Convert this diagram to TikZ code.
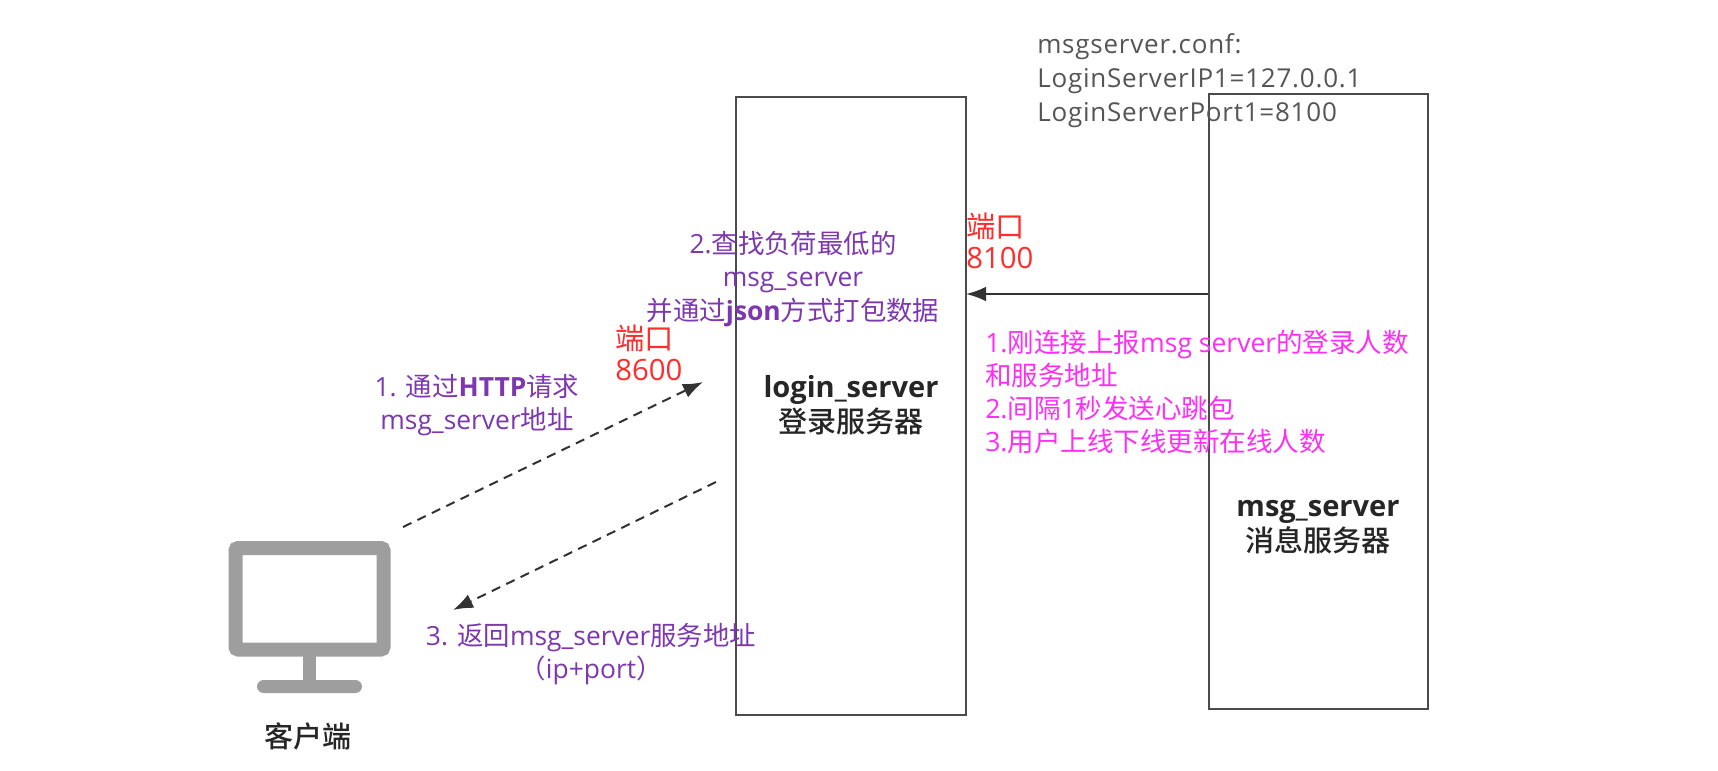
\documentclass[tikz,border=0pt]{standalone}
\usepackage{fontspec}
\usepackage{xcolor}
\usetikzlibrary{arrows.meta}
\setmainfont{Open Sans}
\newfontfamily\cjk{Noto Sans CJK SC}
\newfontfamily\cjkmid{Noto Sans CJK SC Medium}
\newfontfamily\conffont[LetterSpace=3]{Open Sans}
\newcommand{\zh}[1]{{\cjk #1}}
\newcommand{\zhm}[1]{{\cjkmid #1}}
\definecolor{linegray}{RGB}{75,75,75}
\definecolor{arrowgray}{RGB}{50,50,50}
\definecolor{confgray}{RGB}{85,85,85}
\definecolor{portred}{RGB}{255,45,45}
\definecolor{notemagenta}{RGB}{255,45,245}
\definecolor{notepurple}{RGB}{125,55,175}
\definecolor{monitorgray}{RGB}{158,158,158}
\tikzset{
  serverbox/.style={draw=linegray,line width=1.5pt,minimum width=#1,inner sep=0pt},
  confnote/.style={anchor=west,inner sep=0pt,align=left,text=confgray,font=\conffont\fontsize{19.5}{25.5}\selectfont},
  portnote/.style={anchor=west,inner sep=0pt,align=left,text=portred,font=\fontsize{22}{23.5}\selectfont},
  pinknote/.style={anchor=west,inner sep=0pt,align=left,text=notemagenta,font=\fontsize{19.9}{24.75}\selectfont},
  stepnote/.style={inner sep=0pt,align=center,text=notepurple,font=\fontsize{19.8}{25}\selectfont},
  servername/.style={inner sep=0pt,align=center,text=black!85,font=\fontsize{21.8}{26}\selectfont},
  solidarrow/.style={draw=arrowgray,line width=1.5pt,-{Latex[length=15pt,width=11pt]}},
  dashedarrow/.style={draw=arrowgray,line width=1.5pt,dash pattern=on 7pt off 5pt,-{Latex[length=15pt,width=11pt]}},
}

\begin{document}
\begin{tikzpicture}[x=0.75pt,y=0.75pt,yscale=-1,xscale=1]
\useasboundingbox (0,0) rectangle (1718,771);

%Shape: Rectangle [login box]
\node (loginbox) [serverbox=172.5pt,minimum height=463.5pt] at (851,405.5) {};
%Shape: Rectangle [msg box]
\node (msgbox) [serverbox=164.25pt,minimum height=461.25pt] at (1318,401.5) {};

%Shape: Monitor
\draw [monitorgray,line width=10.5pt,rounded corners=2pt] (235.5,548) rectangle (383.5,649.5);
\fill [monitorgray] (303,655) rectangle (316,682);
\fill [monitorgray,rounded corners=5pt] (257,680) rectangle (362,693);

%Free ends of the connectors
\coordinate (portin) at (966,294);
\coordinate (clientout) at (403,527);
\coordinate (loginin) at (703,382);
\coordinate (loginout) at (716,482);
\coordinate (clientin) at (453,610);

%Straight Lines
\draw [solidarrow] (msgbox.west |- portin) -- (portin);
\draw [dashedarrow] (clientout) -- (loginin);
\draw [dashedarrow] (loginout) -- (clientin);

% Text Node
\node (confnote) [confnote] at (1037,81) {msgserver.conf:\\LoginServerIP1=127.0.0.1\\LoginServerPort1=8100};
% Text Node
\node (port8100) [portnote] at (966,241) {\zh{端口}\\8100};
% Text Node
\node (port8600) [portnote] at (615,353) {\zh{端口}\\8600};
% Text Node
\node (reportnote) [pinknote] at (985,392) {1.\zh{刚连接上报}msg server\zh{的登录人数}\\\zh{和服务地址}\\2.\zh{间隔}1\zh{秒发送心跳包}\\3.\zh{用户上线下线更新在线人数}};
% Text Node
\node (findnote) [stepnote] at (793,279) {2.\zh{查找负荷最低的}\\msg\_server\\\zh{并通过}\textbf{json}\zh{方式打包数据}};
% Text Node
\node (requestnote) [stepnote] at (477,405) {1. \zh{通过}\textbf{HTTP}\zh{请求}\\msg\_server\zh{地址}};
% Text Node
\node (replynote) [stepnote] at (591,654) {3. \zh{返回}msg\_server\zh{服务地址}\\\zh{（}ip+port\zh{）}};
% Text Node
\node (loginname) [servername] at (loginbox |- 0,405) {\textbf{login\_server}\\\zhm{登录服务器}};
% Text Node
\node (msgname) [servername] at (msgbox |- 0,527) {\textbf{msg\_server}\\\zhm{消息服务器}};
% Text Node
\node (clientname) [servername] at (308,736) {\zhm{客户端}};

\end{tikzpicture}
\end{document}
